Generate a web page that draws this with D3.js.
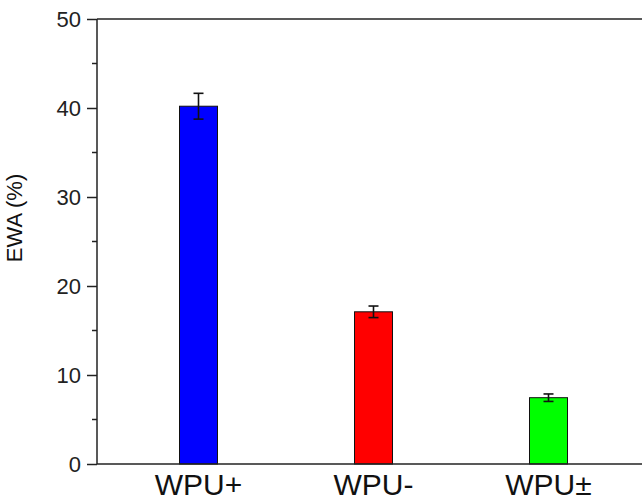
<!DOCTYPE html>
<html>
<head>
<meta charset="utf-8">
<script src="https://cdn.jsdelivr.net/npm/d3@7"></script>
<style>
  html, body { margin: 0; padding: 0; background: #fff; }
  svg { display: block; font-family: Arial, "Liberation Sans", sans-serif; }
</style>
</head>
<body>
<script>
// Water absorption of the three polyurethane films
const categories = ["WPU+", "WPU-", "WPU±"];
const values = [40.2, 17.1, 7.45];
const errors = [1.45, 0.65, 0.42];
const colors = ["#0000ff", "#ff0000", "#00ff00"];
const yTicks = [0, 10, 20, 30, 40, 50];
const yMinorTicks = [5, 15, 25, 35, 45];

const W = 642, H = 504;
const plotLeft = 97, plotTop = 19, plotBottom = 464, plotRight = 650;

const svg = d3.select("body").append("svg")
  .attr("width", W).attr("height", H);

const x = d3.scaleLinear().domain([0.42, 3.58]).range([plotLeft, plotRight]);
const y = d3.scaleLinear().domain([0, 50]).range([plotBottom, plotTop]);
const barW = 38;

// bars
svg.append("g").selectAll("rect")
  .data(values)
  .join("rect")
  .attr("x", (d, i) => x(i + 1) - barW / 2)
  .attr("y", d => y(d))
  .attr("width", barW)
  .attr("height", d => y(0) - y(d))
  .attr("fill", (d, i) => colors[i])
  .attr("stroke", "#111")
  .attr("stroke-width", 1);

// error bars
const eb = svg.append("g").attr("stroke", "#111").attr("stroke-width", 1.6);
values.forEach((v, i) => {
  const cx = x(i + 1);
  eb.append("line").attr("x1", cx).attr("x2", cx)
    .attr("y1", y(v + errors[i])).attr("y2", y(v - errors[i]));
  [v + errors[i], v - errors[i]].forEach(e => {
    eb.append("line").attr("x1", cx - 5).attr("x2", cx + 5)
      .attr("y1", y(e)).attr("y2", y(e));
  });
});

// y axis (major + minor ticks)
const yAxis = svg.append("g")
  .attr("transform", `translate(${plotLeft},0)`)
  .call(d3.axisLeft(y).tickValues(yTicks).tickSize(10).tickPadding(6).tickFormat(d3.format("d")));
yAxis.select(".domain").remove();
yAxis.selectAll(".tick line").attr("stroke", "#222").attr("stroke-width", 1.5);
yAxis.selectAll(".tick text")
  .attr("font-size", 22).attr("fill", "#222")
  .style("font-family", "Arial, 'Liberation Sans', sans-serif");

svg.append("g").selectAll("line")
  .data(yMinorTicks)
  .join("line")
  .attr("x1", plotLeft - 5).attr("x2", plotLeft)
  .attr("y1", d => y(d)).attr("y2", d => y(d))
  .attr("stroke", "#222").attr("stroke-width", 1.5);

// frame lines
const frame = svg.append("g").attr("stroke", "#222").attr("stroke-width", 1.5);
frame.append("line").attr("x1", plotLeft).attr("x2", plotLeft).attr("y1", plotTop).attr("y2", plotBottom);
frame.append("line").attr("x1", plotLeft).attr("x2", W).attr("y1", plotBottom).attr("y2", plotBottom);
frame.append("line").attr("x1", plotLeft).attr("x2", W).attr("y1", plotTop).attr("y2", plotTop);

// category labels
svg.append("g").selectAll("text")
  .data(categories)
  .join("text")
  .attr("x", (d, i) => x(i + 1))
  .attr("y", 495)
  .attr("text-anchor", "middle")
  .attr("font-size", 30)
  .attr("fill", "#111")
  .text(d => d);

// y axis title
svg.append("text")
  .attr("transform", "translate(22,218) rotate(-90)")
  .attr("text-anchor", "middle")
  .attr("font-size", 22)
  .attr("fill", "#111")
  .text("EWA (%)");
</script>
</body>
</html>
